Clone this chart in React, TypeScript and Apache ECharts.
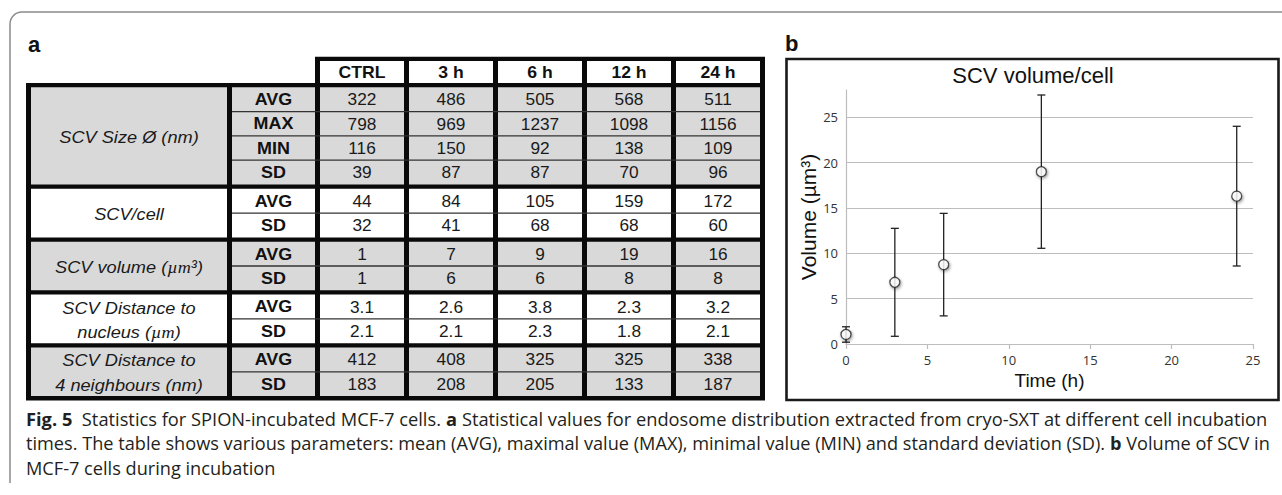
import React, { useEffect, useRef } from "react";
import * as echarts from "echarts";

// ---------------- data ----------------
const timeLabels = ["CTRL", "3 h", "6 h", "12 h", "24 h"];

const sizeAvg = [322, 486, 505, 568, 511];
const sizeMax = [798, 969, 1237, 1098, 1156];
const sizeMin = [116, 150, 92, 138, 109];
const sizeSd = [39, 87, 87, 70, 96];
const cellAvg = [44, 84, 105, 159, 172];
const cellSd = [32, 41, 68, 68, 60];
const volAvg = [1, 7, 9, 19, 16];
const volSd = [1, 6, 6, 8, 8];
const nucAvg = [3.1, 2.6, 3.8, 2.3, 3.2];
const nucSd = [2.1, 2.1, 2.3, 1.8, 2.1];
const neiAvg = [412, 408, 325, 325, 338];
const neiSd = [183, 208, 205, 133, 187];

const groupLabels = [
  "SCV Size Ø (nm)",
  "SCV/cell",
  "SCV volume ({m|µm}³)",
  "SCV Distance to\nnucleus ({m|µm})",
  "SCV Distance to\n4 neighbours (nm)",
];

const plotHours = [0, 3, 6, 12, 24];
const plotMeans = [1.05, 6.8, 8.75, 19.0, 16.3];
const plotErr = [0.85, 5.95, 5.65, 8.45, 7.7];

const yTicks = { min: 0, max: 28, interval: 5 };
const xTicks = { min: 0, max: 25, interval: 5 };

const captionLines: [string, boolean][][] = [
  [
    ["Fig. 5", true],
    ["  Statistics for SPION-incubated MCF-7 cells. ", false],
    ["a", true],
    [" Statistical values for endosome distribution extracted from cryo-SXT at different cell incubation", false],
  ],
  [
    ["times. The table shows various parameters: mean (AVG), maximal value (MAX), minimal value (MIN) and standard deviation (SD). ", false],
    ["b", true],
    [" Volume of SCV in", false],
  ],
  [["MCF-7 cells during incubation", false]],
];

type Group = { label: string; fill: string; decimals: number; rows: [string, number[]][] };
const groups: Group[] = [
  { label: groupLabels[0], fill: "#d9d9d9", decimals: 0, rows: [["AVG", sizeAvg], ["MAX", sizeMax], ["MIN", sizeMin], ["SD", sizeSd]] },
  { label: groupLabels[1], fill: "#ffffff", decimals: 0, rows: [["AVG", cellAvg], ["SD", cellSd]] },
  { label: groupLabels[2], fill: "#d9d9d9", decimals: 0, rows: [["AVG", volAvg], ["SD", volSd]] },
  { label: groupLabels[3], fill: "#ffffff", decimals: 1, rows: [["AVG", nucAvg], ["SD", nucSd]] },
  { label: groupLabels[4], fill: "#d9d9d9", decimals: 0, rows: [["AVG", neiAvg], ["SD", neiSd]] },
];

// ---------------- layout ----------------
const TF = "'Liberation Sans', Arial, sans-serif";
const BT = 4.3; // thick horizontal border
const RH = 24.3; // row height
const colX = [31, 232, 320, 409, 498, 587, 676];
const colW = [196, 83, 84, 84, 84, 84, 84];
const TABLE_L = 26;
const TABLE_R = 765;
const HEAD_TOP = 56.7;
const HEAD_CELL_TOP = 61;
const BODY_TOP = 83;

const CAP_FS = 18;
const CAP_FONT = "'Open Sans'";

function measure(text: string, bold: boolean): number {
  const c = document.createElement("canvas").getContext("2d");
  if (!c) return text.length * 8;
  c.font = `${bold ? "bold " : ""}${CAP_FS}px ${CAP_FONT}`;
  return c.measureText(text).width;
}

function buildGraphics(): any[] {
  const els: any[] = [];
  // outer frame (open at bottom)
  els.push({ type: "line", shape: { x1: 10, y1: 24, x2: 10, y2: 483 }, style: { stroke: "#8a8a8a", lineWidth: 1.5 } });
  els.push({ type: "line", shape: { x1: 22, y1: 12, x2: 1290, y2: 12 }, style: { stroke: "#8a8a8a", lineWidth: 1.5 } });
  els.push({
    type: "arc",
    shape: { cx: 22, cy: 24, r: 12, startAngle: Math.PI, endAngle: Math.PI * 1.5, clockwise: true },
    style: { stroke: "#8a8a8a", lineWidth: 1.5, fill: "none" },
  });

  // panel letters
  els.push({ type: "text", x: 28, y: 44, style: { text: "a", fontSize: 22, fontWeight: "bold", fontFamily: TF, fill: "#111", textAlign: "left", textVerticalAlign: "middle" } });
  els.push({ type: "text", x: 785, y: 43, style: { text: "b", fontSize: 22, fontWeight: "bold", fontFamily: TF, fill: "#111", textAlign: "left", textVerticalAlign: "middle" } });

  // ---- table ----
  let y = BODY_TOP + BT;
  const gPos: { top: number; h: number }[] = [];
  groups.forEach((g) => {
    const h = g.rows.length * RH;
    gPos.push({ top: y, h });
    y += h + BT;
  });
  const bodyBottom = y;

  // black backgrounds (borders)
  els.push({ type: "rect", shape: { x: colX[2] - 5, y: HEAD_TOP, width: TABLE_R - (colX[2] - 5), height: BODY_TOP + BT - HEAD_TOP }, style: { fill: "#0a0a0a" } });
  els.push({ type: "rect", shape: { x: TABLE_L, y: BODY_TOP, width: TABLE_R - TABLE_L, height: bodyBottom - BODY_TOP }, style: { fill: "#0a0a0a" } });

  // header cells
  timeLabels.forEach((t, i) => {
    const cx = colX[i + 2];
    els.push({ type: "rect", shape: { x: cx, y: HEAD_CELL_TOP, width: colW[i + 2], height: BODY_TOP - HEAD_CELL_TOP }, style: { fill: "#ffffff" } });
    els.push({
      type: "text", x: cx + colW[i + 2] / 2, y: (HEAD_CELL_TOP + BODY_TOP) / 2 + 0.5, scaleX: 1.1,
      style: { text: t, fontSize: 16, fontWeight: "bold", fontFamily: TF, fill: "#111", textAlign: "center", textVerticalAlign: "middle" },
    });
  });

  // body
  groups.forEach((g, gi) => {
    const { top, h } = gPos[gi];
    colX.forEach((cx, ci) => {
      els.push({ type: "rect", shape: { x: cx, y: top, width: colW[ci], height: h }, style: { fill: g.fill } });
    });
    for (let k = 1; k < g.rows.length; k++) {
      const ly = top + k * RH;
      els.push({ type: "line", shape: { x1: colX[1], y1: ly, x2: TABLE_R - 5, y2: ly }, style: { stroke: "#333", lineWidth: 1.3 } });
    }
    els.push({
      type: "text", x: colX[0] + colW[0] / 2, y: top + h / 2 + 1, scaleX: 1.07,
      style: {
        text: g.label, fontSize: 17, fontStyle: "italic", fontFamily: TF, fill: "#1a1a1a",
        textAlign: "center", textVerticalAlign: "middle", lineHeight: RH,
        rich: { m: { fontFamily: "'Liberation Serif', serif", fontStyle: "italic", fontSize: 17, lineHeight: RH } },
      },
    });
    g.rows.forEach(([stat, vals], ri) => {
      const cy = top + ri * RH + RH / 2 + 0.5;
      els.push({
        type: "text", x: colX[1] + colW[1] / 2, y: cy, scaleX: 1.12,
        style: { text: stat, fontSize: 16, fontWeight: "bold", fontFamily: TF, fill: "#111", textAlign: "center", textVerticalAlign: "middle" },
      });
      vals.forEach((v, vi) => {
        els.push({
          type: "text", x: colX[vi + 2] + colW[vi + 2] / 2, y: cy, scaleX: 1.08,
          style: { text: v.toFixed(g.decimals), fontSize: 16, fontFamily: TF, fill: "#1a1a1a", textAlign: "center", textVerticalAlign: "middle" },
        });
      });
    });
  });

  // ---- chart frame + title ----
  els.push({ type: "rect", shape: { x: 786.5, y: 59, width: 492, height: 341 }, style: { fill: "none", stroke: "#1a1a1a", lineWidth: 2.6 } });
  els.push({ type: "text", x: 1033, y: 75, style: { text: "SCV volume/cell", fontSize: 22, fontFamily: TF, fill: "#111", textAlign: "center", textVerticalAlign: "middle" } });

  // ---- caption ----
  const capX = 26;
  const capY = [419, 443.5, 468];
  const targets = [1268 - capX, 1270 - capX];
  let lastScale = 0.88;
  captionLines.forEach((segs, li) => {
    const w = segs.reduce((s, [t, b]) => s + measure(t, b), 0);
    let sx = lastScale;
    if (li < targets.length && w > 0) {
      sx = Math.max(0.8, Math.min(1.15, targets[li] / w));
      lastScale = sx;
    }
    const text = segs.map(([t, b]) => (b ? `{b|${t}}` : t)).join("");
    els.push({
      type: "text", x: capX, y: capY[li], scaleX: sx,
      style: {
        text, fontSize: CAP_FS, fontFamily: CAP_FONT, fill: "#231f20", textAlign: "left", textVerticalAlign: "middle",
        rich: { b: { fontWeight: "bold", fontSize: CAP_FS, fontFamily: CAP_FONT, fill: "#231f20" } },
      },
    });
  });

  return els;
}

function buildOption(): any {
  const errData = plotHours.map((h, i) => [h, plotMeans[i] - plotErr[i], plotMeans[i] + plotErr[i]]);
  const ptData = plotHours.map((h, i) => [h, plotMeans[i]]);
  const axisGray = "#bdbdbd";
  return {
    animation: false,
    backgroundColor: "#ffffff",
    grid: { left: 846, right: 29, top: 90, bottom: 151, containLabel: false },
    xAxis: {
      type: "value",
      min: xTicks.min, max: xTicks.max, interval: xTicks.interval,
      name: "Time (h)", nameLocation: "middle", nameGap: 27,
      nameTextStyle: { fontSize: 19, fontFamily: TF, color: "#111" },
      axisLine: { show: true, onZero: false, lineStyle: { color: axisGray, width: 1.2 } },
      axisTick: { show: true, length: 5, lineStyle: { color: axisGray, width: 1.2 } },
      splitLine: { show: false },
      axisLabel: { margin: 9, fontSize: 13, fontFamily: "'Open Sans'", color: "#333" },
    },
    yAxis: {
      type: "value",
      min: yTicks.min, max: yTicks.max, interval: yTicks.interval,
      name: "Volume (µm³)", nameLocation: "middle", nameGap: 27,
      nameTextStyle: { fontSize: 21, fontFamily: TF, color: "#111" },
      axisLine: { show: true, lineStyle: { color: axisGray, width: 1.2 } },
      axisTick: { show: false },
      splitLine: { show: true, showMaxLine: false, lineStyle: { color: axisGray, width: 1 } },
      axisLabel: { margin: 8, fontSize: 13, fontFamily: "'Open Sans'", color: "#333", showMaxLabel: false },
    },
    graphic: { elements: buildGraphics() },
    series: [
      {
        type: "custom",
        name: "SD",
        data: errData,
        encode: { x: 0, y: [1, 2] },
        z: 3,
        renderItem: (params: any, api: any) => {
          const x = api.value(0);
          const lo = api.coord([x, api.value(1)]);
          const hi = api.coord([x, api.value(2)]);
          const w = 4;
          const st = { stroke: "#222", lineWidth: 1.3 };
          return {
            type: "group",
            children: [
              { type: "line", shape: { x1: lo[0], y1: lo[1], x2: hi[0], y2: hi[1] }, style: st },
              { type: "line", shape: { x1: hi[0] - w, y1: hi[1], x2: hi[0] + w, y2: hi[1] }, style: st },
              { type: "line", shape: { x1: lo[0] - w, y1: lo[1], x2: lo[0] + w, y2: lo[1] }, style: st },
            ],
          };
        },
      },
      {
        type: "scatter",
        name: "SCV volume",
        data: ptData,
        z: 5,
        symbol: "circle",
        symbolSize: 10,
        itemStyle: {
          color: "#ffffff", borderColor: "#222", borderWidth: 1.3,
          shadowBlur: 3, shadowColor: "rgba(0,0,0,0.45)", shadowOffsetX: 1, shadowOffsetY: 1.5,
        },
      },
    ],
  };
}

export default function App() {
  const ref = useRef<HTMLDivElement>(null);
  useEffect(() => {
    if (!ref.current) return;
    const chart = echarts.init(ref.current, null, { renderer: "svg" });
    chart.setOption(buildOption());
    return () => chart.dispose();
  }, []);
  return (
    <div
      ref={ref}
      style={{ position: "fixed", left: 0, top: 0, width: 1282, height: 495, background: "#ffffff" }}
    />
  );
}
